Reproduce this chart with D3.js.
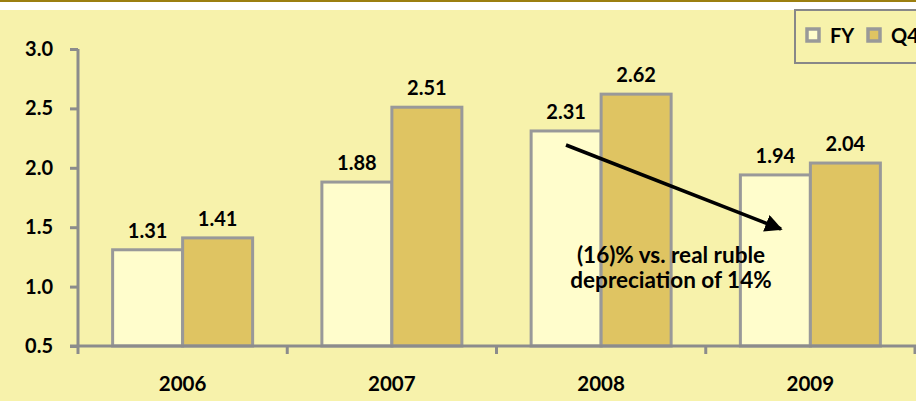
<!DOCTYPE html>
<html>
<head>
<meta charset="utf-8">
<script src="https://cdn.jsdelivr.net/npm/d3@7"></script>
<style>
  body { margin: 0; background: #fff; }
  svg { display: block; font-family: Lato, "Open Sans", sans-serif; font-weight: bold; }
</style>
</head>
<body>
<div id="chart"></div>
<script>
const years = ["2006", "2007", "2008", "2009"];
const fyValues = [1.31, 1.88, 2.31, 1.94];
const q4Values = [1.41, 2.51, 2.62, 2.04];
const seriesNames = ["FY", "Q4"];
const yTicks = [0.5, 1.0, 1.5, 2.0, 2.5, 3.0];

const W = 916, H = 401;
const colors = { FY: "#fffdcc", Q4: "#dfc462" };

let svg = d3.select("#chart").append("svg")
    .attr("width", W)
    .attr("height", H);

// background band + top rule
svg.append("rect").attr("x", 0).attr("y", 0).attr("width", W).attr("height", H).attr("fill", "#fff");
svg.append("rect").attr("x", 0).attr("y", 10).attr("width", W).attr("height", H - 10).attr("fill", "#f7f2ab");
svg.append("rect").attr("x", 0).attr("y", 0).attr("width", W).attr("height", 2).attr("fill", "#9c7f10");

// scales
let x = d3.scaleBand().domain(years).range([78, 915]);
let y = d3.scaleLinear().domain([0.5, 3.0]).range([346, 49]);
let inner = d3.scaleBand().domain(seriesNames).range([0, 140]);
const groupOffset = (x.bandwidth() - 140) / 2;

// bars
let rows = years.map((yr, i) => ({ year: yr, FY: fyValues[i], Q4: q4Values[i] }));
let groups = svg.selectAll(".grp")
    .data(rows)
    .enter()
    .append("g")
    .attr("class", "grp")
    .attr("transform", d => "translate(" + (x(d.year) + groupOffset) + ",0)");

groups.selectAll("rect")
    .data(d => seriesNames.map(s => ({ key: s, value: d[s] })))
    .enter()
    .append("rect")
    .attr("x", d => inner(d.key))
    .attr("y", d => y(d.value))
    .attr("width", inner.bandwidth())
    .attr("height", d => y(0.5) - y(d.value))
    .attr("fill", d => colors[d.key])
    .attr("stroke", "#999")
    .attr("stroke-width", 3);

groups.selectAll(".val")
    .data(d => seriesNames.map(s => ({ key: s, value: d[s] })))
    .enter()
    .append("text")
    .attr("class", "val")
    .attr("x", d => inner(d.key) + inner.bandwidth() / 2)
    .attr("y", d => y(d.value) - 12)
    .attr("text-anchor", "middle")
    .attr("font-size", 20)
    .text(d => d.value.toFixed(2));

// y axis
let yAxis = svg.append("g")
    .attr("transform", "translate(78,0)")
    .call(d3.axisLeft(y).tickValues(yTicks).tickFormat(d3.format(".1f")).tickSize(8).tickPadding(17));
yAxis.select(".domain").attr("stroke", "#8c8c8c").attr("stroke-width", 3).attr("d", "M0,49V346");
yAxis.selectAll(".tick line").attr("stroke", "#8c8c8c").attr("stroke-width", 3);
yAxis.selectAll("text").attr("font-size", 20).attr("fill", "#000").attr("font-family", "Lato, sans-serif").attr("font-weight", "bold");

// x axis
let xAxis = svg.append("g")
    .attr("transform", "translate(0,346)");
xAxis.append("line")
    .attr("x1", 70).attr("x2", W + 5)
    .attr("stroke", "#8c8c8c").attr("stroke-width", 3);
xAxis.selectAll(".xt")
    .data(years.map(yr => x(yr)).concat([x(years[years.length - 1]) + x.bandwidth()]))
    .enter()
    .append("line")
    .attr("x1", d => d).attr("x2", d => d)
    .attr("y1", 0).attr("y2", 8)
    .attr("stroke", "#8c8c8c").attr("stroke-width", 3);
xAxis.selectAll(".cat")
    .data(years)
    .enter()
    .append("text")
    .attr("x", d => x(d) + x.bandwidth() / 2)
    .attr("y", 45)
    .attr("text-anchor", "middle")
    .attr("font-size", 20.5)
    .text(d => d);

// arrow annotation
svg.append("defs").append("marker")
    .attr("id", "head")
    .attr("viewBox", "0 0 10 10")
    .attr("refX", 9).attr("refY", 5)
    .attr("markerWidth", 5).attr("markerHeight", 5)
    .attr("orient", "auto")
    .append("path").attr("d", "M0,0L10,5L0,10z").attr("fill", "#000");
svg.append("line")
    .attr("x1", 566).attr("y1", 145)
    .attr("x2", 781).attr("y2", 229)
    .attr("stroke", "#000").attr("stroke-width", 3.5)
    .attr("marker-end", "url(#head)");

let note = svg.append("text").attr("text-anchor", "middle").attr("font-size", 22.5);
note.append("tspan").attr("x", 671).attr("y", 263).text("(16)% vs. real ruble");
note.append("tspan").attr("x", 671).attr("y", 288).text("depreciation of 14%");

// legend (clipped by the right edge)
let legend = svg.append("g");
legend.append("rect")
    .attr("x", 795).attr("y", 10).attr("width", 140).attr("height", 53)
    .attr("fill", "#f7f2ab").attr("stroke", "#888").attr("stroke-width", 2);
let items = legend.selectAll(".li")
    .data(seriesNames)
    .enter()
    .append("g")
    .attr("transform", (d, i) => "translate(" + (807 + i * 61) + ",29)");
items.append("rect")
    .attr("width", 12).attr("height", 12)
    .attr("fill", d => colors[d])
    .attr("stroke", "#999").attr("stroke-width", 3.5);
items.append("text")
    .attr("x", 23).attr("y", 14)
    .attr("font-size", 20)
    .text(d => d);
</script>
</body>
</html>
